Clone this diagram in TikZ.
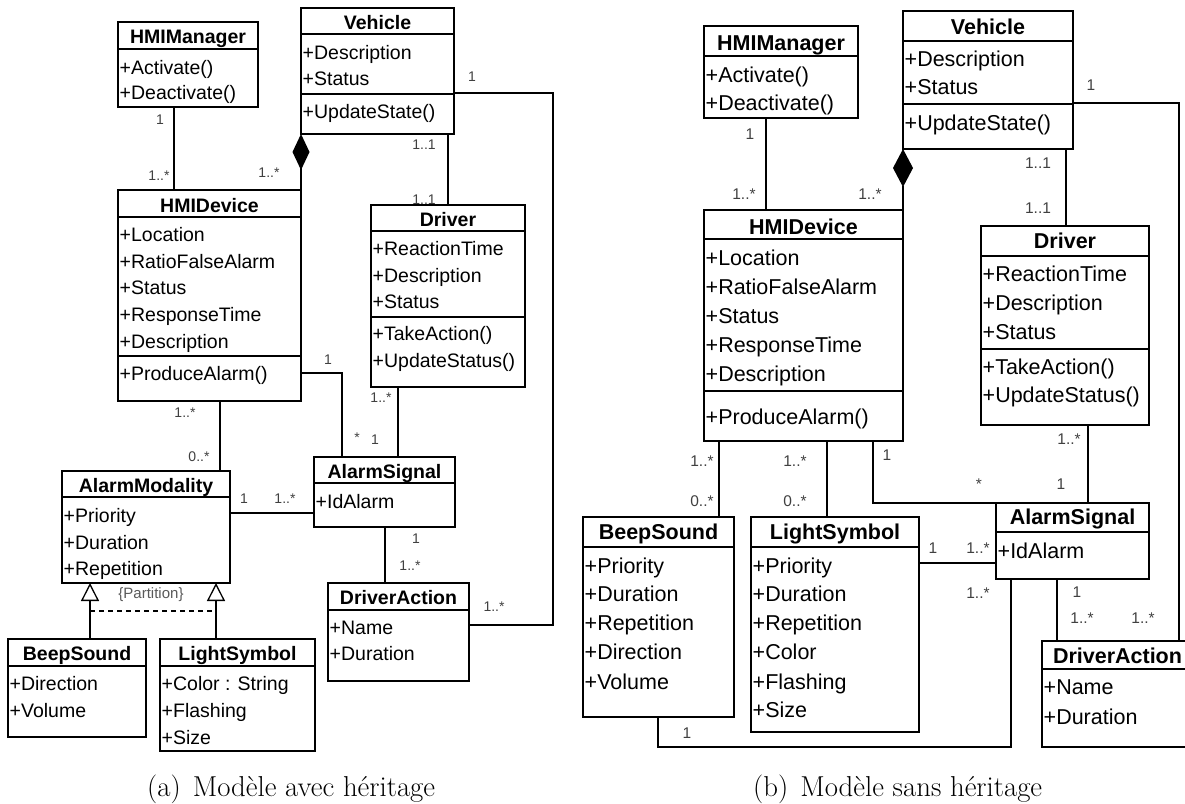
\documentclass[tikz,border=0pt]{standalone}
\usepackage{fontspec}
\newfontfamily\arial{Liberation Sans}
\usetikzlibrary{arrows.meta}
\newcommand\ubox[5]{\node[ubox, minimum width={(#4-#2)*1pt}, minimum height={(#5-#3)*1pt}, anchor=north west] (#1) at (#2,#3) {};}
\newcommand\usep[2]{\draw[conn] (#1.west |- 0,#2) -- (#1.east |- 0,#2);}
\newcommand\urows[3]{\foreach \yy/\rowtext [count=\i] in {#3} {\node[#2] (#1-\i) at (#1.west |- 0,\yy) {\rowtext};}}
\newcommand\utitle[4]{\node[#2] (#1-t) at (#1.north |- 0,#3) {#4};}
\begin{document}
\begin{tikzpicture}[x=1pt,y=-1pt,
  ubox/.style={draw, line width=1.3pt, inner sep=0pt, outer sep=0pt},
  conn/.style={line width=1.3pt},
  attrL/.style={font=\arial\fontsize{19.5}{20}\selectfont, inner sep=0pt, anchor=base west, xshift=1.5pt, yshift=-7pt},
  attrR/.style={font=\arial\fontsize{21.5}{22}\selectfont, inner sep=0pt, anchor=base west, xshift=1.5pt, yshift=-7.7pt},
  ttlL/.style={font=\arial\bfseries\fontsize{19.5}{20}\selectfont, inner sep=0pt, anchor=base, yshift=-7pt},
  ttlR/.style={font=\arial\bfseries\fontsize{21.5}{22}\selectfont, inner sep=0pt, anchor=base, yshift=-7.7pt},
  multL/.style={font=\arial\fontsize{14}{15}\selectfont, text=black!75, inner sep=0pt},
  multR/.style={font=\arial\fontsize{15.5}{16}\selectfont, text=black!75, inner sep=0pt},
  captxt/.style={font=\fontsize{28.8}{32}\selectfont, inner sep=0pt, anchor=base west}]
\useasboundingbox (0,0) rectangle (1185,803);

% ================= LEFT =================
\ubox{hmgrL}{118}{22}{258}{107}
\utitle{hmgrL}{ttlL}{36}{HMIManager}
\usep{hmgrL}{49}
\urows{hmgrL}{attrL}{67/+Activate(), 92/+Deactivate()}

\ubox{vehL}{301}{8}{454}{134}
\utitle{vehL}{ttlL}{22}{Vehicle}
\usep{vehL}{34}
\urows{vehL}{attrL}{52/+Description, 78/+Status, 111/+UpdateState()}
\usep{vehL}{94}

\ubox{hdevL}{118}{190}{301}{401}
\utitle{hdevL}{ttlL}{205}{HMIDevice}
\usep{hdevL}{217}
\urows{hdevL}{attrL}{234/+Location, 261/+RatioFalseAlarm, 287/+Status, 314/+ResponseTime, 341/+Description, 373/+ProduceAlarm()}
\usep{hdevL}{356}

\ubox{drvL}{371}{205}{525}{387}
\utitle{drvL}{ttlL}{219}{Driver}
\usep{drvL}{231}
\urows{drvL}{attrL}{248/+ReactionTime, 275/+Description, 301/+Status, 333/+TakeAction(), 360/+UpdateStatus()}
\usep{drvL}{317}

\ubox{asigL}{314}{457}{455}{527}
\utitle{asigL}{ttlL}{471}{AlarmSignal}
\usep{asigL}{483}
\urows{asigL}{attrL}{501/+IdAlarm}

\ubox{amodL}{62}{471}{230}{583}
\utitle{amodL}{ttlL}{485}{AlarmModality}
\usep{amodL}{497}
\urows{amodL}{attrL}{515/+Priority, 542/+Duration, 568/+Repetition}

\ubox{daL}{328}{583}{469}{681}
\utitle{daL}{ttlL}{597}{DriverAction}
\usep{daL}{610}
\urows{daL}{attrL}{627/+Name, 653/+Duration}

\ubox{beepL}{8}{639}{146}{737}
\utitle{beepL}{ttlL}{653}{BeepSound}
\usep{beepL}{666}
\urows{beepL}{attrL}{683/+Direction, 710/+Volume}

\ubox{lightL}{160}{639}{315}{751}
\utitle{lightL}{ttlL}{653}{LightSymbol}
\usep{lightL}{666}
\urows{lightL}{attrL}{683/+Color : String, 710/+Flashing, 737/+Size}

% connectors left
\draw[conn] (hmgrL.south -| 174,0) -- (hdevL.north -| 174,0);
\draw[conn, -{Diamond[length=36pt,width=17pt]}] (hdevL.north east) -- (vehL.south west);
\draw[conn] (vehL.south -| 448,0) -- (drvL.north -| 448,0);
\draw[conn] (vehL.east |- 0,93) -- (553,93) -- (553,625) -- (daL.east |- 0,625);
\draw[conn] (drvL.south -| 398,0) -- (asigL.north -| 398,0);
\draw[conn] (hdevL.east |- 0,373) -| (asigL.north -| 342,0);
\draw[conn] (hdevL.south -| 220,0) -- (amodL.north -| 220,0);
\draw[conn] (amodL.east |- 0,513) -- (asigL.west |- 0,513);
\draw[conn] (asigL.south -| 385,0) -- (daL.north -| 385,0);
\draw[conn, -{Triangle[open,length=18pt,width=18pt]}] (beepL.north -| 90,0) -- (amodL.south -| 90,0);
\draw[conn, -{Triangle[open,length=18pt,width=18pt]}] (lightL.north -| 216,0) -- (amodL.south -| 216,0);
\draw[conn, dash pattern=on 5pt off 4pt] (90,611) -- (216,611);
\node[multL, text=black!65, font=\arial\fontsize{15}{16}\selectfont] (partL) at (151,595) {\{Partition\}};

\foreach \x/\y/\t [count=\i] in {160/120/1, 159/176/1..*, 269/173/1..*, 424/145/1..1, 424/200/1..1, 472/77/1, 494/607/1..*, 328/360/1, 357/438/*, 381/398/1..*, 375/440/1, 185/413/1..*, 199/457/0..*, 244/499/1, 285/499/1..*, 416/539/1, 410/566/1..*}
  {\node[multL] (mL\i) at (\x,\y) {\t};}

\node[captxt] (capA) at (147,796) {(a)\hspace{12pt}Modèle avec héritage};

% ================= RIGHT =================
\ubox{hmgrR}{704}{26}{858}{118}
\utitle{hmgrR}{ttlR}{43}{HMIManager}
\usep{hmgrR}{56}
\urows{hmgrR}{attrR}{75/+Activate(), 103/+Deactivate()}

\ubox{vehR}{903}{11}{1073}{149}
\utitle{vehR}{ttlR}{27}{Vehicle}
\usep{vehR}{41}
\urows{vehR}{attrR}{59/+Description, 87/+Status, 123/+UpdateState()}
\usep{vehR}{104}

\ubox{hdevR}{704}{210}{903}{441}
\utitle{hdevR}{ttlR}{227}{HMIDevice}
\usep{hdevR}{239}
\urows{hdevR}{attrR}{258/+Location, 287/+RatioFalseAlarm, 316/+Status, 345/+ResponseTime, 374/+Description, 417/+ProduceAlarm()}
\usep{hdevR}{391}

\ubox{drvR}{981}{226}{1149}{425}
\utitle{drvR}{ttlR}{241}{Driver}
\usep{drvR}{256}
\urows{drvR}{attrR}{274/+ReactionTime, 303/+Description, 332/+Status, 367/+TakeAction(), 395/+UpdateStatus()}
\usep{drvR}{349}

\ubox{asigR}{996}{503}{1149}{579}
\utitle{asigR}{ttlR}{517}{AlarmSignal}
\usep{asigR}{532}
\urows{asigR}{attrR}{551/+IdAlarm}

\ubox{daR}{1042}{641}{1193}{747}
\utitle{daR}{ttlR}{656}{DriverAction}
\usep{daR}{669}
\urows{daR}{attrR}{687/+Name, 717/+Duration}

\ubox{beepR}{583}{517}{734}{717}
\utitle{beepR}{ttlR}{532}{BeepSound}
\usep{beepR}{547}
\urows{beepR}{attrR}{566/+Priority, 594/+Duration, 623/+Repetition, 652/+Direction, 682/+Volume}

\ubox{lightR}{751}{517}{919}{732}
\utitle{lightR}{ttlR}{532}{LightSymbol}
\usep{lightR}{547}
\urows{lightR}{attrR}{566/+Priority, 594/+Duration, 623/+Repetition, 652/+Color, 682/+Flashing, 710/+Size}

% connectors right
\draw[conn] (hmgrR.south -| 766,0) -- (hdevR.north -| 766,0);
\draw[conn, -{Diamond[length=38pt,width=20pt]}] (hdevR.north east) -- (vehR.south west);
\draw[conn] (vehR.south -| 1066,0) -- (drvR.north -| 1066,0);
\draw[conn] (vehR.east |- 0,103) -- (1179,103) -- (daR.north -| 1179,0);
\draw[conn] (drvR.south -| 1088,0) -- (asigR.north -| 1088,0);
\draw[conn] (hdevR.south -| 873,0) |- (asigR.north west);
\draw[conn] (hdevR.south -| 719,0) -- (beepR.north -| 719,0);
\draw[conn] (hdevR.south -| 827,0) -- (lightR.north -| 827,0);
\draw[conn] (lightR.east |- 0,563) -- (asigR.west |- 0,563);
\draw[conn] (beepR.south -| 658,0) -- (658,747) -- (1011,747) -- (asigR.south -| 1011,0);
\draw[conn] (asigR.south -| 1057,0) -- (daR.north -| 1057,0);

\foreach \x/\y/\t [count=\i] in {750/134/1, 744/194/1..*, 870/194/1..*, 1038/163/1..1, 1038/208/1..1, 1091/85/1, 1143/618/1..*, 1069/439/1..*, 1061/484/1, 887/455/1, 979/484/*, 702/461/1..*, 702/501/0..*, 795/461/1..*, 795/501/0..*, 933/548/1, 978/548/1..*, 687/733/1, 978/593/1..*, 1077/592/1, 1082/618/1..*}
  {\node[multR] (mR\i) at (\x,\y) {\t};}

\node[captxt] (capB) at (753,796) {(b)\hspace{12pt}Modèle sans héritage};
\end{tikzpicture}
\end{document}
